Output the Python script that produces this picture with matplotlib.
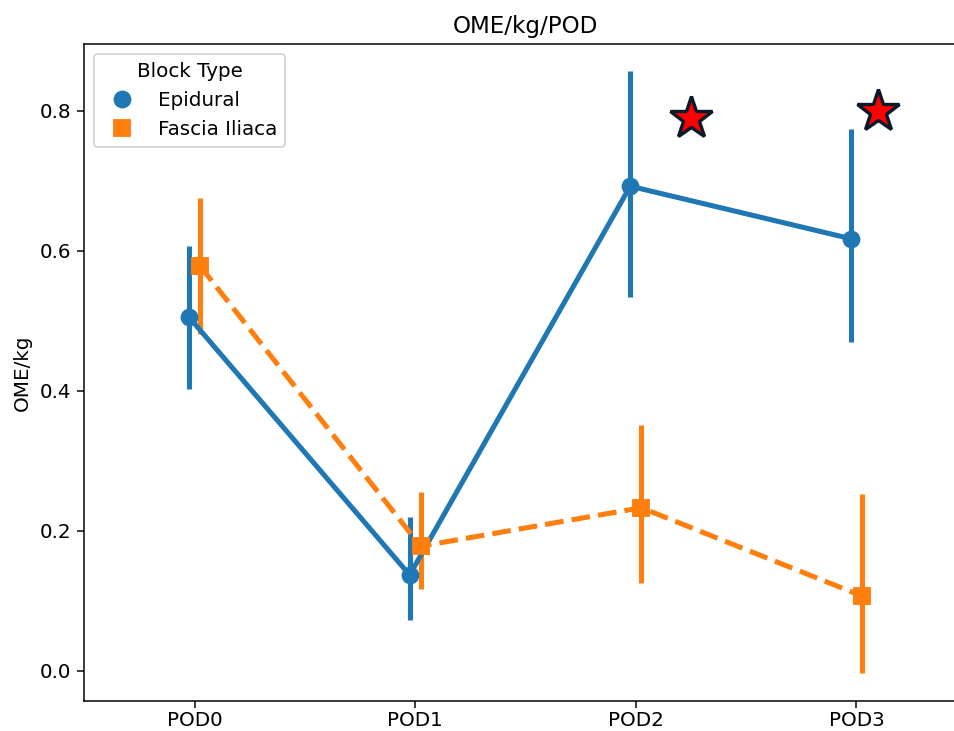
import numpy as np
import matplotlib
matplotlib.use("Agg")
import matplotlib.pyplot as plt
from matplotlib.lines import Line2D

# opioid use (OME/kg) per post-op day, mean with 95% CI, by block type
days = ["POD0", "POD1", "POD2", "POD3"]
epi_mean = [0.505, 0.137, 0.692, 0.617]
epi_lo = [0.402, 0.072, 0.534, 0.470]
epi_hi = [0.606, 0.220, 0.857, 0.773]
fi_mean = [0.578, 0.178, 0.233, 0.107]
fi_lo = [0.481, 0.117, 0.125, -0.003]
fi_hi = [0.675, 0.255, 0.351, 0.253]

# significance markers
star_x = [2.25, 3.10]
star_y = [0.79, 0.80]

BLUE = "#1f77b4"
ORANGE = "#ff7f0e"
DPI = 135

plt.rcParams["font.size"] = 10.6

fig = plt.figure(figsize=(954 / DPI, 731 / DPI), dpi=DPI)
ax = fig.add_axes([0.0883, 0.041, 0.925, 0.8988])

x = np.arange(len(days))
lw = 2.7
groups = [
    ("Epidural", epi_mean, epi_lo, epi_hi, BLUE, "o", "-", -0.025),
    ("Fascia Iliaca", fi_mean, fi_lo, fi_hi, ORANGE, "s", "--", 0.025),
]
handles = []
for name, mean, lo, hi, color, marker, ls, off in groups:
    mean = np.array(mean)
    yerr = [mean - np.array(lo), np.array(hi) - mean]
    ax.errorbar(x + off, mean, yerr=yerr, color=color, marker=marker,
                markersize=8.5, linestyle=ls, linewidth=lw, elinewidth=lw,
                capsize=0)
    handles.append(Line2D([], [], color=color, marker=marker, linestyle="",
                          markersize=8.5, label=name))

ax.plot(star_x, star_y, linestyle="", marker="*", markersize=24,
        markerfacecolor="red", markeredgecolor="#0b1a2b", markeredgewidth=1.8)

ax.set_xticks(x)
ax.set_xticklabels(days)
ax.tick_params(axis="x", pad=2)
ax.set_xlim(-0.5, 3.5)
ax.set_ylim(-0.043, 0.895)
ax.set_yticks([0.0, 0.2, 0.4, 0.6, 0.8])
ax.set_ylabel("OME/kg")
ax.set_title("OME/kg/POD", fontsize=12.3)
ax.legend(handles=handles, title="Block Type", loc="upper left")

fig.savefig("out.png", dpi=DPI)
